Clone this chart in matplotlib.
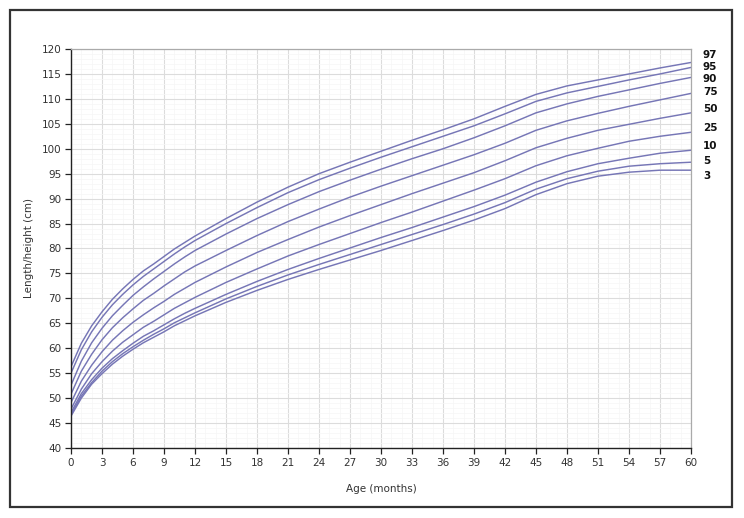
import matplotlib
matplotlib.use("Agg")
import matplotlib.pyplot as plt
import matplotlib.patches as patches
from matplotlib.ticker import MultipleLocator

ages = [0, 1, 2, 3, 4, 5, 6, 7, 8, 9, 10, 11, 12,
        15, 18, 21, 24, 27, 30, 33, 36, 39, 42, 45, 48, 51, 54, 57, 60]

p97 = [56.3, 61.0, 64.5, 67.3, 69.8, 71.9, 73.8, 75.5, 76.9, 78.4, 79.9, 81.2, 82.5,
       86.0, 89.3, 92.3, 95.0, 97.3, 99.5, 101.7, 103.8, 106.0, 108.5, 110.9, 112.6, 113.8, 115.0, 116.2, 117.3]
p95 = [55.0, 59.7, 63.3, 66.2, 68.7, 70.8, 72.7, 74.4, 75.9, 77.4, 78.9, 80.3, 81.6,
       85.0, 88.2, 91.2, 93.8, 96.1, 98.3, 100.4, 102.5, 104.6, 107.0, 109.5, 111.2, 112.5, 113.8, 115.0, 116.3]
p90 = [52.6, 57.4, 61.1, 64.0, 66.5, 68.6, 70.6, 72.3, 73.9, 75.4, 76.9, 78.3, 79.6,
       82.9, 86.0, 88.8, 91.4, 93.7, 95.9, 98.0, 100.0, 102.2, 104.6, 107.2, 109.0, 110.5, 111.8, 113.1, 114.3]
p75 = [50.8, 55.4, 58.8, 61.7, 64.1, 66.1, 67.9, 69.6, 71.0, 72.5, 73.9, 75.3, 76.5,
       79.6, 82.6, 85.4, 87.9, 90.3, 92.5, 94.6, 96.7, 98.8, 101.1, 103.7, 105.6, 107.1, 108.5, 109.8, 111.1]
p50 = [49.1, 53.4, 56.6, 59.3, 61.6, 63.5, 65.2, 66.7, 68.1, 69.4, 70.8, 72.0, 73.2,
       76.3, 79.2, 81.8, 84.3, 86.6, 88.8, 91.0, 93.1, 95.2, 97.6, 100.2, 102.1, 103.7, 104.9, 106.1, 107.2]
p25 = [47.8, 51.8, 54.9, 57.3, 59.4, 61.2, 62.7, 64.2, 65.4, 66.7, 68.0, 69.1, 70.2,
       73.2, 75.9, 78.5, 80.8, 83.0, 85.2, 87.3, 89.5, 91.7, 94.0, 96.6, 98.6, 100.1, 101.5, 102.5, 103.3]
p10 = [47.1, 50.9, 53.7, 56.0, 57.9, 59.5, 61.0, 62.4, 63.5, 64.7, 65.9, 67.0, 68.0,
       70.8, 73.4, 75.8, 78.0, 80.1, 82.2, 84.2, 86.3, 88.4, 90.7, 93.3, 95.4, 97.0, 98.1, 99.1, 99.7]
p05 = [46.7, 50.4, 53.1, 55.4, 57.3, 58.9, 60.3, 61.6, 62.8, 63.9, 65.1, 66.1, 67.1,
       69.9, 72.4, 74.7, 76.8, 78.8, 80.8, 82.8, 84.8, 86.9, 89.2, 91.9, 94.0, 95.5, 96.5, 97.0, 97.3]
p03 = [46.4, 50.0, 52.8, 54.9, 56.8, 58.4, 59.8, 61.1, 62.2, 63.3, 64.5, 65.5, 66.5,
       69.2, 71.6, 73.8, 75.8, 77.7, 79.6, 81.6, 83.6, 85.7, 88.0, 90.8, 93.0, 94.5, 95.3, 95.7, 95.7]

series = [p97, p95, p90, p75, p50, p25, p10, p05, p03]
pct_labels = ["97", "95", "90", "75", "50", "25", "10", "5", "3"]
label_y = [118.7, 116.3, 113.9, 111.4, 108.0, 104.2, 100.5, 97.5, 94.6]

fig = plt.figure(figsize=(7.44, 5.18), dpi=100)
ax = fig.add_axes([71 / 744, 70 / 518, 620 / 744, 399 / 518])

for s in series:
    ax.plot(ages, s, color="#7676b6", lw=1.05, solid_joinstyle="round")

for lab, y in zip(pct_labels, label_y):
    ax.text(61.15, y, lab, fontsize=7.5, fontweight="bold", color="#111111",
            ha="left", va="center", clip_on=False)

ax.set_xlim(0, 60)
ax.set_ylim(40, 120)
ax.xaxis.set_major_locator(MultipleLocator(3))
ax.yaxis.set_major_locator(MultipleLocator(5))
ax.xaxis.set_minor_locator(MultipleLocator(1))
ax.yaxis.set_minor_locator(MultipleLocator(1))
ax.grid(which="major", color="#dcdcdc", lw=0.8)
ax.grid(which="minor", color="#f6f6f6", lw=0.5)
ax.set_axisbelow(True)

ax.tick_params(which="major", length=4, width=0.9, color="#222222",
               labelsize=7.5, labelcolor="#333333", pad=3)
ax.tick_params(which="minor", length=0)
for side in ["left", "bottom"]:
    ax.spines[side].set_color("#222222")
    ax.spines[side].set_linewidth(1.0)
for side in ["top", "right"]:
    ax.spines[side].set_color("#aaaaaa")
    ax.spines[side].set_linewidth(0.9)

ax.set_xlabel("Age (months)", fontsize=7.5, color="#333333", labelpad=12)
ax.set_ylabel("Length/height (cm)", fontsize=7.5, color="#333333", labelpad=5)

# outer frame
fig.patches.append(patches.Rectangle((10 / 744, 11 / 518), 722 / 744, 497 / 518,
                                     transform=fig.transFigure, fill=False,
                                     edgecolor="#333333", lw=1.6))

fig.savefig("out.png", dpi=100)
